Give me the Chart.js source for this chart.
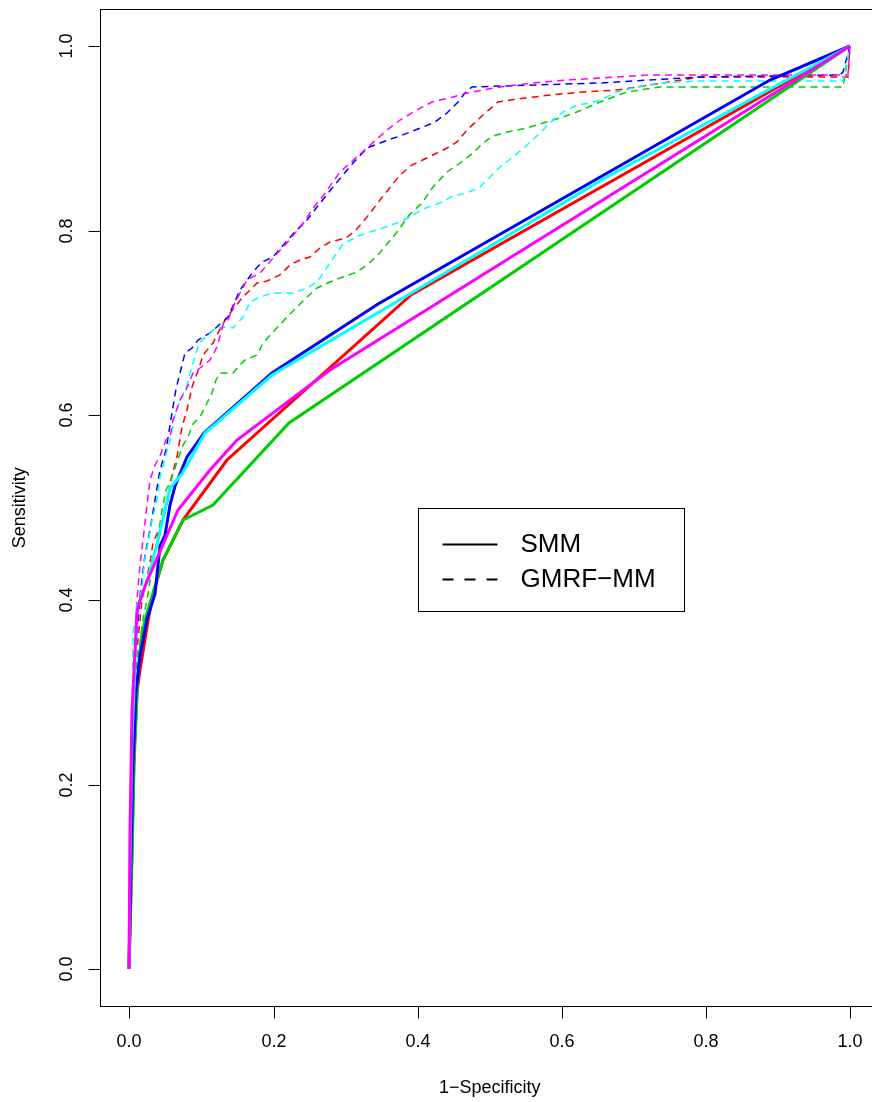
<!DOCTYPE html>
<html lang="en">
<head>
<meta charset="UTF-8">
<title>ROC curves: SMM vs GMRF-MM</title>
<script src="https://cdn.jsdelivr.net/npm/chart.js@4.4.0/dist/chart.umd.min.js"></script>
<style>
    html, body { margin: 0; padding: 0; background: #fff; overflow: hidden; }
    #roc { display: block; }
</style>
</head>
<body>
<canvas id="roc" width="880" height="1102"></canvas>
<script>
    // axis ticks and legend text
    const xTicks = [0, 0.2, 0.4, 0.6, 0.8, 1.0];
    const yTicks = [0, 0.2, 0.4, 0.6, 0.8, 1.0];
    const legendLabels = ['SMM', 'GMRF\u2212MM'];
    const seriesColours = ['#FF0000', '#00CD00', '#0000FF', '#00FFFF', '#FF00FF'];

    // SMM curves (solid), [1-specificity, sensitivity]
    const smmRed = [[0,0],[0.003,0.13],[0.007,0.23],[0.0105,0.30],[0.015,0.324],[0.024,0.371],[0.033,0.407],[0.047,0.443],[0.075,0.487],[0.135,0.552],[0.391,0.730],[1,1]];
    const smmGreen = [[0,0],[0.003,0.12],[0.007,0.22],[0.012,0.324],[0.017,0.364],[0.024,0.386],[0.038,0.422],[0.047,0.443],[0.075,0.487],[0.116,0.503],[0.222,0.592],[1,1]];
    const smmBlue = [[0,0],[0.002,0.12],[0.005,0.22],[0.009,0.30],[0.015,0.339],[0.024,0.380],[0.036,0.407],[0.042,0.459],[0.049,0.470],[0.057,0.503],[0.063,0.523],[0.080,0.555],[0.103,0.581],[0.198,0.646],[0.345,0.721],[0.889,0.963],[1,1]];
    const smmCyan = [[0,0],[0.001,0.12],[0.004,0.25],[0.0075,0.33],[0.010,0.393],[0.024,0.42],[0.040,0.465],[0.056,0.521],[0.073,0.536],[0.105,0.581],[0.198,0.644],[0.38,0.727],[0.66,0.857],[1,1]];
    const smmMagenta = [[0,0],[0.001,0.15],[0.004,0.28],[0.008,0.345],[0.010,0.386],[0.012,0.393],[0.022,0.415],[0.068,0.498],[0.112,0.541],[0.149,0.573],[0.278,0.649],[1,1]];

    // GMRF-MM curves (dashed)
    const gmrfRed = [[0,0],[0.002,0.129],[0.006,0.259],[0.011,0.346],[0.017,0.400],[0.029,0.440],[0.033,0.462],[0.043,0.479],[0.049,0.494],[0.054,0.508],[0.056,0.527],[0.066,0.555],[0.073,0.587],[0.080,0.606],[0.087,0.631],[0.095,0.648],[0.102,0.665],[0.116,0.678],[0.126,0.693],[0.135,0.707],[0.147,0.717],[0.156,0.727],[0.167,0.736],[0.177,0.743],[0.191,0.746],[0.209,0.752],[0.223,0.763],[0.237,0.768],[0.251,0.772],[0.265,0.781],[0.279,0.788],[0.300,0.792],[0.315,0.801],[0.330,0.815],[0.348,0.833],[0.376,0.860],[0.392,0.871],[0.421,0.882],[0.441,0.890],[0.455,0.896],[0.469,0.909],[0.491,0.925],[0.512,0.939],[0.538,0.943],[0.584,0.947],[0.630,0.950],[0.677,0.952],[0.723,0.958],[0.792,0.966],[0.997,0.966],[1,1]];
    const gmrfGreen = [[0,0],[0.002,0.129],[0.006,0.238],[0.012,0.336],[0.019,0.379],[0.024,0.400],[0.030,0.427],[0.036,0.454],[0.041,0.476],[0.045,0.498],[0.051,0.519],[0.056,0.527],[0.066,0.549],[0.074,0.568],[0.081,0.577],[0.088,0.591],[0.098,0.598],[0.108,0.613],[0.115,0.624],[0.120,0.638],[0.126,0.646],[0.144,0.646],[0.151,0.652],[0.160,0.660],[0.177,0.665],[0.185,0.678],[0.199,0.690],[0.219,0.707],[0.233,0.717],[0.247,0.728],[0.260,0.738],[0.278,0.744],[0.296,0.750],[0.316,0.755],[0.330,0.763],[0.344,0.773],[0.358,0.785],[0.371,0.798],[0.389,0.818],[0.406,0.830],[0.421,0.847],[0.441,0.863],[0.459,0.873],[0.477,0.884],[0.491,0.895],[0.505,0.902],[0.524,0.907],[0.552,0.911],[0.574,0.917],[0.598,0.922],[0.621,0.929],[0.643,0.936],[0.653,0.939],[0.691,0.950],[0.709,0.952],[0.736,0.955],[0.792,0.956],[0.990,0.956],[1,1]];
    const gmrfBlue = [[0,0],[0.002,0.129],[0.005,0.238],[0.009,0.346],[0.015,0.404],[0.022,0.449],[0.029,0.476],[0.036,0.508],[0.043,0.541],[0.051,0.563],[0.056,0.590],[0.065,0.628],[0.077,0.668],[0.087,0.673],[0.095,0.682],[0.112,0.689],[0.137,0.707],[0.154,0.736],[0.172,0.755],[0.184,0.766],[0.199,0.772],[0.226,0.795],[0.246,0.812],[0.260,0.826],[0.283,0.847],[0.310,0.873],[0.330,0.890],[0.359,0.898],[0.376,0.902],[0.408,0.912],[0.424,0.918],[0.441,0.927],[0.456,0.939],[0.466,0.949],[0.476,0.956],[0.653,0.960],[0.792,0.966],[0.986,0.968],[0.990,0.972],[1,1]];
    const gmrfCyan = [[0,0],[0.0015,0.129],[0.004,0.238],[0.005,0.364],[0.012,0.393],[0.018,0.414],[0.022,0.447],[0.026,0.462],[0.031,0.487],[0.038,0.508],[0.043,0.533],[0.049,0.554],[0.056,0.573],[0.063,0.600],[0.070,0.617],[0.080,0.633],[0.084,0.646],[0.090,0.660],[0.097,0.678],[0.108,0.686],[0.119,0.695],[0.135,0.696],[0.144,0.695],[0.158,0.707],[0.167,0.723],[0.181,0.728],[0.199,0.733],[0.227,0.733],[0.247,0.738],[0.260,0.744],[0.278,0.765],[0.296,0.785],[0.317,0.794],[0.334,0.799],[0.352,0.803],[0.371,0.808],[0.389,0.815],[0.408,0.823],[0.431,0.830],[0.449,0.837],[0.469,0.841],[0.487,0.847],[0.500,0.858],[0.514,0.869],[0.532,0.880],[0.552,0.893],[0.570,0.906],[0.588,0.920],[0.602,0.929],[0.621,0.936],[0.639,0.938],[0.653,0.941],[0.677,0.950],[0.704,0.956],[0.736,0.960],[0.792,0.962],[0.990,0.962],[1,1]];
    const gmrfMagenta = [[0,0],[0.002,0.129],[0.005,0.238],[0.008,0.336],[0.010,0.400],[0.015,0.438],[0.019,0.465],[0.024,0.503],[0.029,0.530],[0.036,0.546],[0.043,0.556],[0.051,0.573],[0.056,0.577],[0.061,0.595],[0.070,0.617],[0.080,0.630],[0.088,0.646],[0.098,0.651],[0.112,0.660],[0.122,0.674],[0.130,0.698],[0.137,0.703],[0.145,0.719],[0.154,0.733],[0.163,0.747],[0.181,0.754],[0.199,0.770],[0.219,0.787],[0.237,0.804],[0.241,0.808],[0.260,0.830],[0.269,0.837],[0.292,0.863],[0.330,0.890],[0.358,0.909],[0.376,0.920],[0.399,0.931],[0.420,0.939],[0.449,0.945],[0.469,0.949],[0.514,0.956],[0.560,0.960],[0.607,0.963],[0.653,0.965],[0.722,0.968],[0.997,0.968],[1,1]];

    const smmCurves = [smmRed, smmGreen, smmBlue, smmCyan, smmMagenta];
    const gmrfCurves = [gmrfRed, gmrfGreen, gmrfBlue, gmrfCyan, gmrfMagenta];

    const fontFamily = '"Liberation Sans", Arial, Helvetica, sans-serif';
    const axisFont = { family: fontFamily, size: 18 };

    const toPoints = arr => arr.map(p => ({ x: p[0], y: p[1] }));

    // dashed drawn first, solid on top; later colours on top of earlier ones
    const datasets = [];
    gmrfCurves.forEach((c, i) => datasets.push({
        label: 'GMRF-MM ' + i,
        data: toPoints(c),
        borderColor: seriesColours[i],
        borderWidth: 1.5,
        borderDash: [7, 5]
    }));
    smmCurves.forEach((c, i) => datasets.push({
        label: 'SMM ' + i,
        data: toPoints(c),
        borderColor: seriesColours[i],
        borderWidth: 3
    }));
    datasets.forEach((d, i) => { d.order = datasets.length - i; });

    // box round the plot and the key, like base R graphics
    const boxAndKey = {
        id: 'boxAndKey',
        afterDraw(chart) {
            const { ctx, chartArea: a, scales: { x, y } } = chart;
            ctx.save();
            ctx.strokeStyle = '#000';
            ctx.lineWidth = 1;
            ctx.strokeRect(Math.floor(a.left) + 0.5, Math.floor(a.top) + 0.5,
                Math.round(a.right - a.left), Math.round(a.bottom - a.top));

            const bx = Math.round(x.getPixelForValue(0.4)) + 0.5;
            const by = Math.round(y.getPixelForValue(0.5)) + 0.5;
            const bw = 266, bh = 103;
            ctx.fillStyle = '#fff';
            ctx.fillRect(bx, by, bw, bh);
            ctx.strokeRect(bx, by, bw, bh);

            ctx.font = '26px ' + fontFamily;
            ctx.textBaseline = 'middle';
            ctx.textAlign = 'left';
            ctx.fillStyle = '#000';
            ctx.lineWidth = 2;
            [[], [11, 11]].forEach((dash, i) => {
                const ly = by + 36 + i * 35;
                ctx.setLineDash(dash);
                ctx.beginPath();
                ctx.moveTo(bx + 24, ly);
                ctx.lineTo(bx + 79, ly);
                ctx.stroke();
                ctx.fillText(legendLabels[i], bx + 102, ly);
            });
            ctx.restore();
        }
    };

    new Chart(document.getElementById('roc'), {
        type: 'scatter',
        data: { datasets },
        options: {
            responsive: false,
            animation: false,
            events: [],
            showLine: true,
            layout: { padding: { top: 9, right: 1.2, bottom: 0, left: 0 } },
            elements: { point: { radius: 0 }, line: { tension: 0 } },
            plugins: { legend: { display: false }, tooltip: { enabled: false } },
            scales: {
                x: {
                    type: 'linear',
                    min: -0.04,
                    max: 1.04,
                    alignToPixels: true,
                    afterBuildTicks: s => { s.ticks = xTicks.map(v => ({ value: v })); },
                    afterFit: s => { s.height = 95.6; s.paddingLeft = 0; s.paddingRight = 0; },
                    border: { display: false },
                    grid: { drawOnChartArea: false, drawTicks: true, tickLength: 12, color: '#000', lineWidth: 1 },
                    ticks: { color: '#000', font: axisFont, padding: 13, maxRotation: 0, autoSkip: false,
                             callback: v => v.toFixed(1) },
                    title: { display: true, text: '1\u2212Specificity', color: '#000', font: axisFont,
                             padding: { top: 0, bottom: 3 } }
                },
                y: {
                    type: 'linear',
                    min: -0.04,
                    max: 1.04,
                    alignToPixels: true,
                    afterBuildTicks: s => { s.ticks = yTicks.map(v => ({ value: v })); },
                    afterFit: s => { s.width = 100.6; s.paddingTop = 0; s.paddingBottom = 0; },
                    border: { display: false },
                    grid: { drawOnChartArea: false, drawTicks: true, tickLength: 12, color: '#000', lineWidth: 1 },
                    ticks: { color: '#000', font: axisFont, padding: 9, minRotation: 90, maxRotation: 90,
                             crossAlign: 'center', autoSkip: false, callback: v => v.toFixed(1) },
                    title: { display: true, text: 'Sensitivity', color: '#000', font: axisFont,
                             padding: { top: 9, bottom: 0 } }
                }
            }
        },
        plugins: [boxAndKey]
    });
</script>
</body>
</html>
